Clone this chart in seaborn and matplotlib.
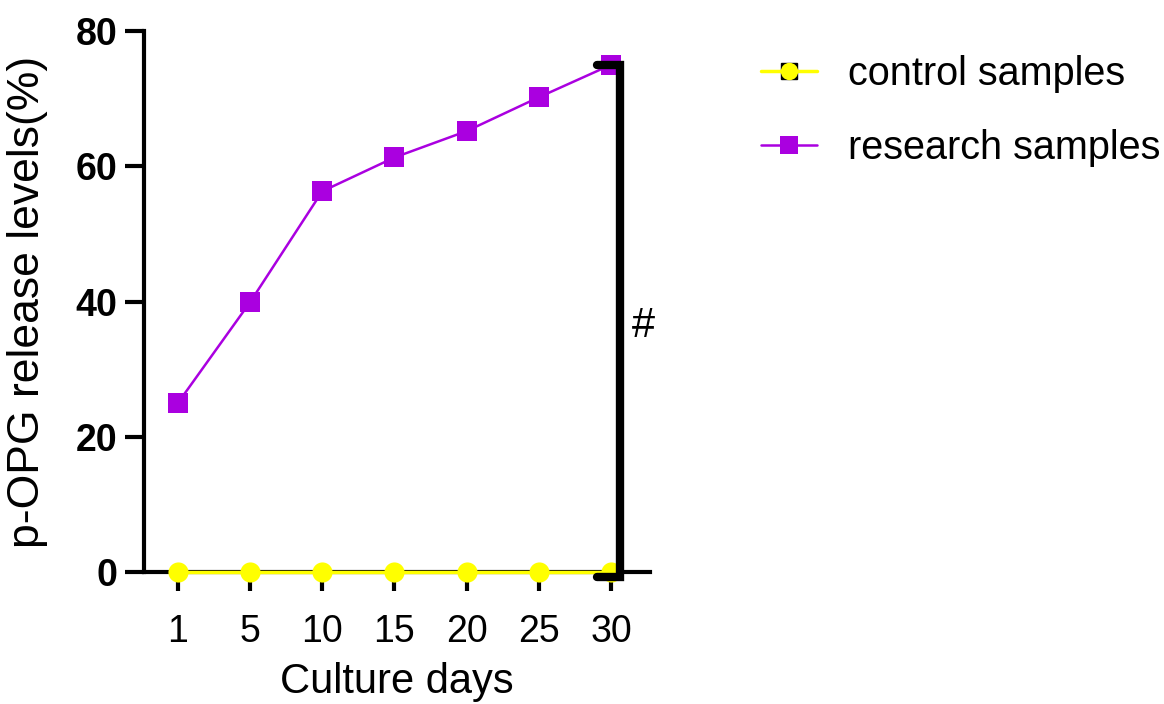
import matplotlib
matplotlib.use("Agg")
import matplotlib.pyplot as plt
from matplotlib.lines import Line2D
import seaborn as sns
import pandas as pd
import numpy as np

days = ["1", "5", "10", "15", "20", "25", "30"]
control = [0, 0, 0, 0, 0, 0, 0]
research = [25.0, 39.9, 56.3, 61.3, 65.2, 70.2, 75.0]
groups = ["control samples", "research samples"]
y_ticks = [0, 20, 40, 60, 80]

sns.set_theme(style="ticks")
plt.rcParams["font.family"] = ["Liberation Sans", "DejaVu Sans"]
plt.rcParams.update({
    "text.color": "black", "axes.labelcolor": "black",
    "xtick.color": "black", "ytick.color": "black", "axes.edgecolor": "black",
})

YELLOW = "#FFFF00"
PURPLE = "#AA00E0"

pos = np.arange(len(days))
df = pd.DataFrame({
    "pos": np.concatenate([pos, pos]),
    "value": control + research,
    "group": [groups[0]] * len(days) + [groups[1]] * len(days),
})

fig = plt.figure(figsize=(11.64, 7.04), dpi=100)
ax = fig.add_axes([144 / 1164, 1 - 572 / 704, (650 - 144) / 1164, (572 - 31) / 704])

sub_r = df[df.group == groups[1]]
sub_c = df[df.group == groups[0]]
sns.lineplot(data=sub_r, x="pos", y="value", ax=ax, color=PURPLE, marker="s",
             markersize=14, linewidth=1.8, markeredgewidth=0, legend=False, zorder=5)
sns.lineplot(data=sub_c, x="pos", y="value", ax=ax, color=YELLOW, marker="o",
             markersize=14.5, linewidth=2.5, markeredgewidth=0, legend=False, zorder=6)
for ln in ax.lines:
    ln.set_clip_on(False)

ax.set_xlim(-0.47, 6.54)
ax.set_ylim(0, 80)
ax.set_xticks(pos)
ax.set_xticklabels(days, fontsize=27)
ax.set_yticks(y_ticks)
ax.set_yticklabels([str(v) for v in y_ticks], fontsize=27, fontweight="bold")
for s in ["top", "right"]:
    ax.spines[s].set_visible(False)
for s in ["left", "bottom"]:
    ax.spines[s].set_linewidth(3)
ax.tick_params(axis="both", length=14, width=3, color="black")
ax.tick_params(axis="x", pad=16)
ax.tick_params(axis="y", pad=5)
ax.set_xlabel("Culture days", fontsize=30, labelpad=9)
ax.set_ylabel("p-OPG release levels(%)", fontsize=32, labelpad=20)

# significance bracket
xb = pos[-1] + 0.12
xc = pos[-1] - 0.2
top = research[-1]
ax.plot([xc, xb, xb, xc], [top, top, -0.8, -0.8], color="black", lw=6,
        solid_joinstyle="miter", clip_on=False, zorder=7)
ax.text(xb + 0.17, top * 0.485, "#", fontsize=30, va="center", ha="left")

h_c = (Line2D([], [], color="black", marker="s", linestyle="none", markersize=11.5),
       Line2D([], [], color=YELLOW, marker="o", markersize=12.5, lw=2.5, markeredgewidth=0))
h_r = Line2D([], [], color=PURPLE, marker="s", markersize=13, lw=1.8, markeredgewidth=0)
fig.legend([h_c, h_r], groups, loc="upper left", bbox_to_anchor=(0.654, 0.922),
           frameon=False, fontsize=28.5, handlelength=1.4, handletextpad=0.8,
           labelspacing=0.9, borderpad=0, borderaxespad=0)

fig.savefig("out.png", dpi=100)
